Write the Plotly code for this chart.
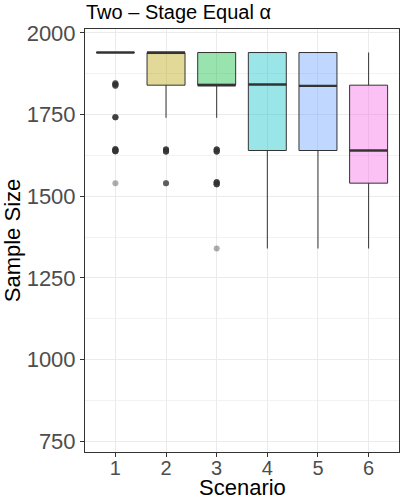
import plotly.graph_objects as go

# Box summaries per scenario (sample size)
scenarios = [1, 2, 3, 4, 5, 6]
q1 = [1940, 1840, 1840, 1640, 1640, 1540]
median = [1940, 1940, 1840, 1842, 1838, 1640]
q3 = [1940, 1940, 1940, 1940, 1940, 1840]
lower_whisker = [1940, 1740, 1740, 1340, 1340, 1340]
upper_whisker = [1940, 1940, 1940, 1940, 1940, 1940]
fill_colors = ["#F8766D", "#B79F00", "#00BA38", "#00BFC4", "#619CFF", "#F564E3"]

# Outlying runs: scenario, sample size, number of runs at that value
out_scenario = [1, 1, 1, 1, 1, 1, 1, 1,
                2, 2, 2,
                3, 3, 3, 3, 3]
out_value = [1846, 1842, 1838, 1742, 1644, 1638, 1540, 1640,
             1643, 1637, 1540,
             1643, 1637, 1543, 1537, 1340]
out_count = [3, 4, 3, 5, 5, 5, 1, 3,
             5, 5, 3,
             5, 5, 5, 5, 1]

y_ticks = [750, 1000, 1250, 1500, 1750, 2000]
y_minor = [875, 1125, 1375, 1625, 1875]

fig = go.Figure()


def rgba(hex_color, alpha):
    h = hex_color.lstrip("#")
    r, g, b = int(h[0:2], 16), int(h[2:4], 16), int(h[4:6], 16)
    return f"rgba({r},{g},{b},{alpha})"


box_width = 0.75
for s, a, m, b, lo, hi, c in zip(scenarios, q1, median, q3,
                                  lower_whisker, upper_whisker, fill_colors):
    fig.add_trace(go.Box(
        x=[s], q1=[a], median=[m], q3=[b],
        lowerfence=[lo], upperfence=[hi],
        width=box_width, whiskerwidth=0,
        fillcolor=rgba(c, 0.4),
        line=dict(color="#333333", width=1),
        boxpoints=False, showlegend=False, hoverinfo="skip",
    ))
    # thicker median bar
    fig.add_trace(go.Scatter(
        x=[s - box_width / 2, s + box_width / 2], y=[m, m],
        mode="lines", line=dict(color="#333333", width=2.4),
        showlegend=False, hoverinfo="skip",
    ))

# Outliers: repeated semi-transparent points so that stacked runs darken
ox, oy = [], []
for s, v, n in zip(out_scenario, out_value, out_count):
    ox += [s] * n
    oy += [v] * n
fig.add_trace(go.Scatter(
    x=ox, y=oy, mode="markers",
    marker=dict(color="#333333", size=6, opacity=0.4, line=dict(width=0)),
    showlegend=False, hoverinfo="skip",
))

font_family = "Liberation Sans, Arial, sans-serif"
plot_top, plot_bottom = 29, 48
plot_h = 500 - plot_top - plot_bottom

fig.update_layout(
    width=402, height=500,
    margin=dict(l=85, r=3, t=plot_top, b=plot_bottom),
    paper_bgcolor="white", plot_bgcolor="white",
    font=dict(family=font_family, color="black"),
    title=dict(
        text="Two – Stage Equal α",
        x=0, xref="paper", xanchor="left",
        y=1 - 19 / 500, yref="container", yanchor="bottom",
        font=dict(size=20, color="black", family=font_family),
        pad=dict(b=0, l=1),
    ),
    xaxis=dict(
        range=[0.4, 6.6],
        tickmode="array", tickvals=scenarios, ticktext=[str(s) for s in scenarios],
        showgrid=True, gridcolor="#EBEBEB", gridwidth=1,
        zeroline=False,
        showline=True, mirror=True, linecolor="#333333", linewidth=1,
        ticks="outside", ticklen=4, tickcolor="#333333", tickwidth=1,
        ticklabelstandoff=-6,
        tickfont=dict(size=20, color="#4D4D4D"),
    ),
    yaxis=dict(
        range=[717, 2012],
        tickmode="array", tickvals=y_ticks, ticktext=[str(t) for t in y_ticks],
        showgrid=True, gridcolor="#EBEBEB", gridwidth=1,
        minor=dict(tickmode="array", tickvals=y_minor,
                   showgrid=True, gridcolor="#F2F2F2", gridwidth=1, ticks=""),
        zeroline=False,
        showline=True, mirror=True, linecolor="#333333", linewidth=1,
        ticks="outside", ticklen=4, tickcolor="#333333", tickwidth=1,
        tickfont=dict(size=22, color="#4D4D4D"),
        title=dict(text="Sample Size", font=dict(size=22, color="black"), standoff=4),
    ),
    annotations=[dict(
        text="Scenario", showarrow=False,
        xref="paper", x=0.5, xanchor="center",
        yref="paper", y=-(487 - (500 - plot_bottom)) / plot_h, yanchor="middle",
        font=dict(size=22, color="black", family=font_family),
    )],
)

fig.write_html("out.html")
